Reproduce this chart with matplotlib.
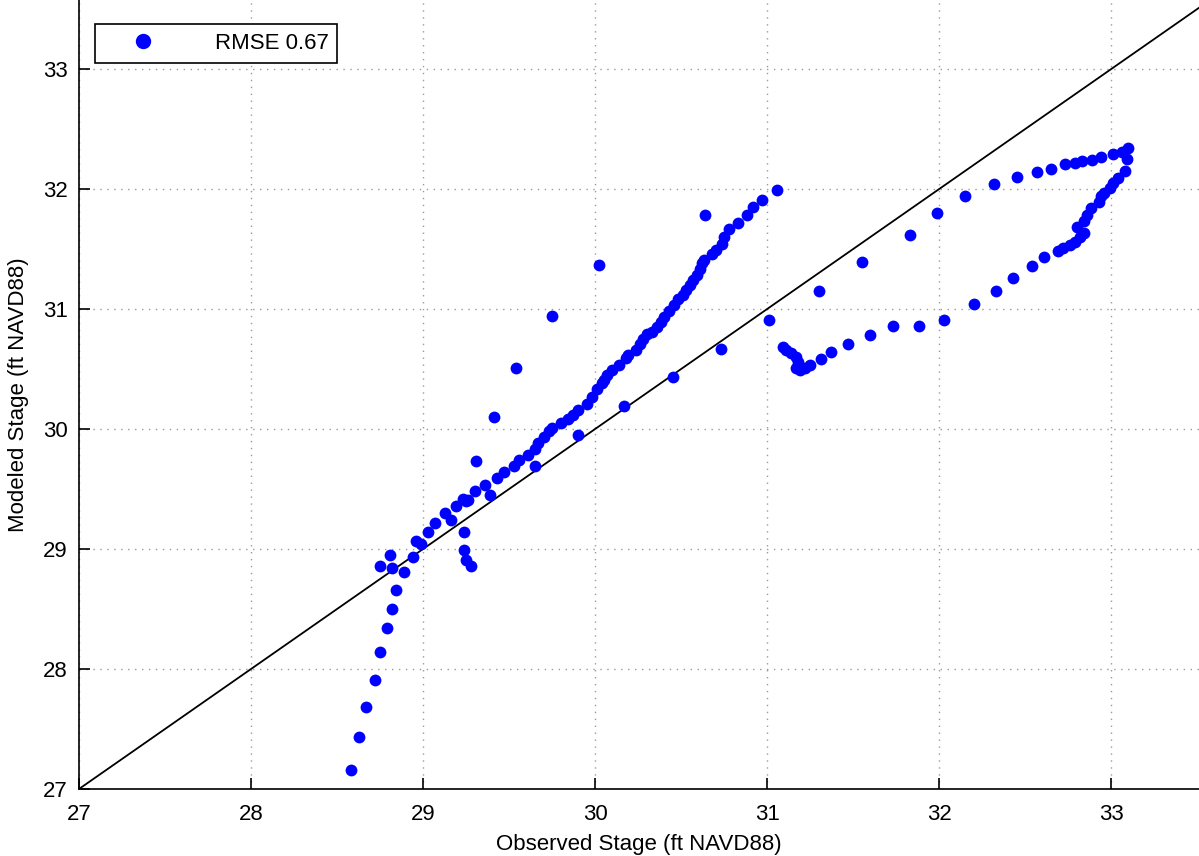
import numpy as np
import matplotlib.pyplot as plt

plt.rcParams['font.family'] = ['Liberation Sans', 'DejaVu Sans']

# observed vs modeled stage (ft NAVD88)
observed = [28.58, 28.63, 28.67, 28.72, 28.75, 28.79, 28.82, 28.84, 28.75, 28.81,
            28.82, 28.89, 28.94, 28.96, 28.99, 29.03, 29.07, 29.13, 29.16, 29.19,
            29.25, 29.24, 29.24, 29.25, 29.28, 29.23, 29.26, 29.30, 29.36, 29.39,
            29.43, 29.47, 29.31, 29.53, 29.56, 29.65, 29.61, 29.65, 29.67, 29.70,
            29.73, 29.75, 29.80, 29.84, 29.87, 29.90, 29.95, 29.98, 30.01, 30.04,
            29.41, 29.90, 29.54, 29.75, 30.02, 30.17, 30.45, 30.73, 31.01, 30.64,
            30.05, 30.07, 30.10, 30.14, 30.18, 30.19, 30.24, 30.26, 30.28, 30.30,
            30.33, 30.36, 30.38, 30.40, 30.43, 30.46, 30.48, 30.51, 30.53, 30.55,
            30.57, 30.59, 30.61, 30.62, 30.63, 30.68, 30.70, 30.74, 30.75, 30.78,
            30.83, 30.88, 30.92, 30.97, 31.06,
            31.30, 31.55, 31.09, 31.11, 31.14, 31.17, 31.18, 31.17, 31.19, 31.22,
            31.25, 31.31, 31.37, 31.47, 31.60, 31.73, 31.88, 32.03,
            31.83, 31.99, 32.15, 32.32, 32.45, 32.57, 32.65, 32.73, 32.79, 32.83,
            32.89, 32.94, 33.01, 33.06, 33.10, 33.09, 33.08, 33.04, 33.01, 32.99,
            32.96, 32.94, 32.93, 32.88, 32.86, 32.84, 32.80, 32.84, 32.82, 32.79,
            32.76, 32.72, 32.69, 32.61, 32.54, 32.43, 32.33, 32.20]
modeled = [27.16, 27.43, 27.68, 27.91, 28.14, 28.34, 28.50, 28.66, 28.86, 28.95,
           28.84, 28.81, 28.93, 29.07, 29.04, 29.14, 29.22, 29.30, 29.24, 29.36,
           29.40, 29.14, 28.99, 28.91, 28.86, 29.42, 29.41, 29.48, 29.53, 29.45,
           29.59, 29.64, 29.73, 29.69, 29.74, 29.69, 29.78, 29.83, 29.88, 29.93,
           29.98, 30.01, 30.05, 30.08, 30.12, 30.16, 30.21, 30.27, 30.33, 30.38,
           30.10, 29.95, 30.51, 30.94, 31.37, 30.19, 30.43, 30.67, 30.91, 31.78,
           30.41, 30.45, 30.49, 30.53, 30.59, 30.62, 30.66, 30.71, 30.75, 30.79,
           30.81, 30.85, 30.89, 30.93, 30.98, 31.03, 31.08, 31.12, 31.16, 31.20,
           31.24, 31.28, 31.33, 31.38, 31.41, 31.46, 31.49, 31.54, 31.60, 31.67,
           31.72, 31.78, 31.85, 31.91, 31.99,
           31.15, 31.39, 30.68, 30.66, 30.63, 30.60, 30.56, 30.51, 30.49, 30.51,
           30.53, 30.58, 30.64, 30.71, 30.78, 30.86, 30.86, 30.91,
           31.62, 31.80, 31.94, 32.04, 32.10, 32.14, 32.17, 32.21, 32.22, 32.23,
           32.24, 32.27, 32.29, 32.31, 32.34, 32.25, 32.15, 32.09, 32.05, 32.01,
           31.97, 31.94, 31.89, 31.84, 31.78, 31.73, 31.68, 31.63, 31.60, 31.56,
           31.53, 31.51, 31.48, 31.43, 31.36, 31.26, 31.15, 31.04]
one_to_one = [27, 34]
ticks = [27, 28, 29, 30, 31, 32, 33]

fig = plt.figure(figsize=(11.99, 8.56), dpi=100)
ax = fig.add_axes([0.0659, 0.0783, 0.9341, 0.9217])

ax.plot(observed, modeled, 'o', color='#0000ff', ms=8.5, mec='none', label='RMSE 0.67', zorder=3)
ax.plot(one_to_one, one_to_one, color='black', lw=1.3, zorder=2)

ax.set_xlim(27, 33.51)
ax.set_ylim(27, 33.575)
ax.set_xticks(ticks)
ax.set_yticks(ticks)
ax.tick_params(axis='x', pad=11)
ax.tick_params(axis='y', pad=8)
ax.tick_params(direction='in', length=8, width=1.2, labelsize=16,
               top=False, right=False)
ax.spines['top'].set_visible(False)
ax.spines['right'].set_visible(False)
ax.spines['left'].set_linewidth(1.2)
ax.spines['bottom'].set_linewidth(1.2)
ax.grid(True, linestyle=(0, (1, 4)), color='#9a9a9a', lw=1.0)
ax.set_axisbelow(True)

ax.set_xlabel('Observed Stage (ft NAVD88)', fontsize=16, labelpad=6)
ax.set_ylabel('Modeled Stage (ft NAVD88)', fontsize=16, labelpad=10)

leg = ax.legend(loc='upper left', bbox_to_anchor=(0.004, 0.984), fontsize=16,
                handlelength=3.6, handletextpad=1.4, borderpad=0.4,
                fancybox=False, edgecolor='black', framealpha=1, markerscale=1.3)
leg.get_frame().set_linewidth(1.2)

fig.savefig('out.png', dpi=100)
